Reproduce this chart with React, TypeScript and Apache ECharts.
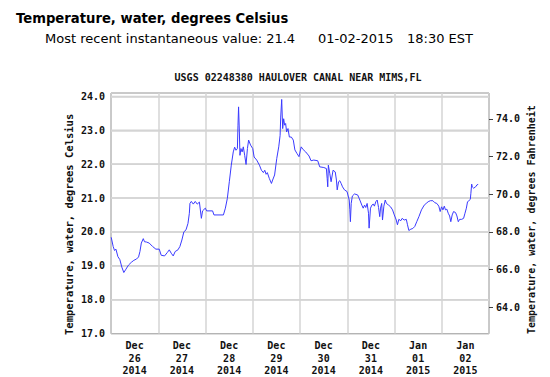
import React, { useEffect, useRef } from "react";
import * as echarts from "echarts";

// Hours since 2014-12-26 00:00 EST
const hours = [
  0.1, 1.1, 1.8, 2.5, 3.5, 4.5, 5.5, 6.5, 7.6, 8.9, 10.3, 11.6, 13.0, 14.0, 14.7, 15.4, 16.4, 17.0, 18.0, 19.4,
  21.1, 22.8, 24.5, 25.5, 27.2, 28.6, 29.6, 30.6, 31.6, 32.6, 34.0, 35.0, 36.0, 37.0, 38.1, 39.1, 39.8, 40.1,
  40.8, 41.8, 42.8, 43.8, 44.9, 45.9, 46.5, 47.9, 48.6, 51.6, 52.3, 57.1, 58.1, 59.1, 60.1, 61.1, 62.1, 62.8,
  63.5, 64.2, 64.5, 64.8, 65.2, 65.5, 66.0, 66.6, 67.2, 67.9, 68.6, 69.3, 69.9, 70.9, 72.0, 72.7, 74.0, 75.4,
  76.4, 77.4, 78.1, 78.8, 79.4, 80.4, 81.5, 82.1, 83.1, 84.2, 85.2, 85.9, 86.2, 86.7, 87.2, 87.7, 88.2, 88.7,
  89.2, 89.9, 90.6, 91.6, 92.6, 93.4, 94.5, 95.5, 96.6, 97.6, 98.9, 100.6, 101.6, 103.0, 105.0, 106.0, 108.1,
  109.4, 109.8, 110.1, 110.4, 111.1, 111.8, 112.8, 113.9, 114.5, 114.9, 115.6, 116.2, 116.9, 117.6, 118.6,
  119.9, 121.0, 121.3, 121.6, 122.0, 122.6, 123.7, 125.3, 126.4, 127.4, 128.1, 128.8, 129.4, 130.1, 130.8,
  131.1, 131.8, 132.5, 133.2, 133.8, 134.5, 135.2, 135.9, 136.5, 136.9, 137.5, 137.9, 138.6, 139.3, 139.9,
  141.0, 142.0, 143.0, 143.9, 144.9, 145.5, 146.2, 147.2, 147.9, 148.9, 150.0, 150.6, 151.3, 152.3, 153.3,
  154.3, 155.3, 156.4, 157.7, 159.1, 160.1, 161.1, 162.2, 163.5, 164.5, 165.5, 166.5, 167.2, 167.9, 168.6,
  169.3, 169.9, 170.6, 171.3, 172.0, 172.6, 173.3, 174.0, 175.0, 175.7, 176.4, 177.1, 178.1, 179.1, 179.8,
  180.5, 181.1, 181.8, 182.5, 182.8, 183.2, 183.5, 184.2, 185.2, 185.9, 186.5,
];

// Water temperature, degrees Celsius
const tempC = [
  19.84, 19.57, 19.45, 19.49, 19.27, 19.18, 18.96, 18.8, 18.9, 19.02, 19.1, 19.16, 19.2, 19.26, 19.42, 19.67, 19.8,
  19.71, 19.7, 19.67, 19.57, 19.49, 19.49, 19.31, 19.29, 19.39, 19.47, 19.37, 19.29, 19.42, 19.47, 19.57, 19.76,
  20.0, 20.06, 20.25, 20.55, 20.84, 20.9, 20.82, 20.9, 20.82, 20.88, 20.4, 20.62, 20.7, 20.62, 20.62, 20.5, 20.5,
  20.7, 20.99, 21.48, 21.97, 22.36, 22.5, 22.41, 22.46, 23.15, 23.69, 22.95, 22.26, 22.46, 22.36, 22.51, 22.26,
  21.99, 22.46, 22.71, 22.56, 22.46, 22.21, 22.12, 21.97, 21.82, 21.75, 21.82, 21.7, 21.75, 21.58, 21.43, 21.53,
  21.68, 22.17, 22.51, 22.85, 23.39, 23.91, 23.05, 23.34, 23.15, 23.2, 22.95, 23.05, 22.8, 22.8, 22.71, 22.42,
  22.31, 22.22, 22.51, 22.43, 22.36, 22.24, 22.1, 22.12, 22.1, 21.92, 21.9, 21.87, 21.58, 21.33, 21.97, 21.73,
  21.48, 21.82, 21.77, 21.53, 21.24, 21.48, 21.51, 21.43, 21.33, 21.24, 21.19, 20.94, 20.67, 20.3, 20.84, 21.06,
  21.12, 21.09, 20.94, 20.79, 20.7, 20.79, 20.72, 20.84, 20.55, 20.11, 20.7, 20.79, 20.82, 20.76, 20.89, 20.94,
  20.72, 20.45, 20.7, 20.84, 20.35, 20.76, 20.94, 20.84, 20.79, 20.74, 20.65, 20.5, 20.35, 20.21, 20.37, 20.33,
  20.4, 20.35, 20.37, 20.21, 20.04, 20.08, 20.1, 20.16, 20.3, 20.45, 20.65, 20.79, 20.84, 20.89, 20.92, 20.92,
  20.86, 20.84, 20.76, 20.6, 20.74, 20.65, 20.76, 20.65, 20.67, 20.55, 20.47, 20.3, 20.5, 20.6, 20.57, 20.47,
  20.3, 20.37, 20.37, 20.4, 20.55, 20.7, 20.89, 20.92, 20.96, 21.14, 21.41, 21.33, 21.29, 21.33, 21.39, 21.4,
];

const dayMonths = ["Dec", "Dec", "Dec", "Dec", "Dec", "Dec", "Jan", "Jan"];
const dayNums = ["26", "27", "28", "29", "30", "31", "01", "02"];
const dayYears = ["2014", "2014", "2014", "2014", "2014", "2014", "2015", "2015"];

const celsiusTicks = [17, 18, 19, 20, 21, 22, 23, 24];
const fahrenheitTicks = [64, 66, 68, 70, 72, 74];

const X_MAX_HOURS = 192;
const HOURS_PER_DAY = 24;
const Y_MIN = 17;
const Y_MAX = 24.1;

const MONO = "'DejaVu Sans Mono', monospace";
const SANS = "'DejaVu Sans', Verdana, sans-serif";
const GRID_COLOR = "#d4d4d4";

export default function App() {
  const ref = useRef<HTMLDivElement>(null);

  useEffect(() => {
    if (!ref.current) return;
    const chart = echarts.init(ref.current, null, { renderer: "svg" });
    const dayLabels = dayMonths.map((m, i) => `${m}\n${dayNums[i]}\n${dayYears[i]}`);
    const seriesData = hours.map((h, i) => [h, tempC[i]]);
    const axisFont = { fontFamily: MONO, fontSize: 10, fontWeight: "bold" as const, color: "#111" };
    const gridLineStyle = { color: GRID_COLOR, width: 1.5, type: "solid" as const };

    // Horizontal grid lines, drawn as flat line series across the x range
    const gridSeries = celsiusTicks
      .filter((v) => v > Y_MIN && v < Y_MAX)
      .map((v) => ({
        type: "line",
        name: `grid-${v}`,
        xAxisIndex: 0,
        yAxisIndex: 0,
        data: [
          [0, v],
          [X_MAX_HOURS, v],
        ],
        showSymbol: false,
        symbol: "none",
        silent: true,
        lineStyle: gridLineStyle,
        z: 1,
      }));

    chart.setOption({
      animation: false,
      backgroundColor: "#fff",
      grid: {
        left: 111,
        top: 93,
        width: 378,
        height: 243,
        show: true,
        borderColor: "#555",
        borderWidth: 1,
      },
      xAxis: [
        {
          type: "value",
          min: 0,
          max: X_MAX_HOURS,
          interval: HOURS_PER_DAY,
          position: "bottom",
          axisLine: { show: false },
          axisTick: { show: false },
          axisLabel: { show: false },
          splitLine: { show: true, lineStyle: gridLineStyle },
        },
        {
          type: "category",
          data: dayLabels,
          boundaryGap: true,
          position: "bottom",
          axisLine: { show: false },
          axisTick: { show: false },
          axisLabel: { ...axisFont, margin: 6, lineHeight: 12.5 },
          splitLine: { show: false },
        },
      ],
      yAxis: [
        {
          type: "value",
          min: Y_MIN,
          max: Y_MAX,
          interval: 1,
          position: "left",
          axisLine: { show: false },
          axisTick: { show: false },
          axisLabel: {
            ...axisFont,
            margin: 6,
            formatter: (v: number) => (celsiusTicks.includes(v) ? v.toFixed(1) : ""),
          },
          splitLine: { show: true, lineStyle: gridLineStyle },
        },
        {
          type: "value",
          min: Y_MIN * 1.8 + 32,
          max: Y_MAX * 1.8 + 32,
          position: "right",
          axisLine: { show: false },
          axisTick: {
            show: true,
            length: 4,
            inside: false,
            customValues: fahrenheitTicks,
            lineStyle: { color: "#444", width: 1 },
          },
          axisLabel: {
            ...axisFont,
            margin: 7,
            customValues: fahrenheitTicks,
            formatter: (v: number) => v.toFixed(1),
          },
          splitLine: { show: false },
        },
      ],
      series: [
        ...gridSeries,
        {
          type: "line",
          name: "temp",
          xAxisIndex: 0,
          yAxisIndex: 0,
          data: seriesData,
          showSymbol: false,
          symbol: "none",
          lineStyle: { color: "#3a3aff", width: 1 },
          z: 5,
        },
      ],
      graphic: [
        {
          type: "text",
          left: 16,
          top: 12,
          style: {
            text: "Temperature, water, degrees Celsius",
            font: `bold 13.2px ${SANS}`,
            fill: "#000",
          },
        },
        {
          type: "text",
          x: 45,
          y: 38,
          style: {
            text: "Most recent instantaneous value: 21.4",
            font: `13px ${SANS}`,
            fill: "#000",
            verticalAlign: "middle",
          },
        },
        {
          type: "text",
          x: 318,
          y: 38,
          style: { text: "01-02-2015", font: `13px ${SANS}`, fill: "#000", verticalAlign: "middle" },
        },
        {
          type: "text",
          x: 407,
          y: 38,
          style: { text: "18:30 EST", font: `13px ${SANS}`, fill: "#000", verticalAlign: "middle" },
        },
        {
          type: "text",
          x: 298,
          y: 77,
          style: {
            text: "USGS 02248380 HAULOVER CANAL NEAR MIMS,FL",
            font: `bold 10px ${MONO}`,
            fill: "#111",
            align: "center",
            verticalAlign: "middle",
          },
        },
        {
          type: "text",
          x: 69,
          y: 335,
          rotation: Math.PI / 2,
          style: {
            text: "Temperature, water, degrees Celsius",
            font: `bold 10.5px ${MONO}`,
            fill: "#111",
            align: "left",
            verticalAlign: "middle",
          },
        },
        {
          type: "text",
          x: 531,
          y: 334,
          rotation: Math.PI / 2,
          style: {
            text: "Temperature, water, degrees Fahrenheit",
            font: `bold 10px ${MONO}`,
            fill: "#111",
            align: "left",
            verticalAlign: "middle",
          },
        },
      ],
    });

    return () => chart.dispose();
  }, []);

  return (
    <div
      ref={ref}
      style={{ position: "fixed", left: 0, top: 0, width: 550, height: 377, background: "#fff" }}
    />
  );
}
